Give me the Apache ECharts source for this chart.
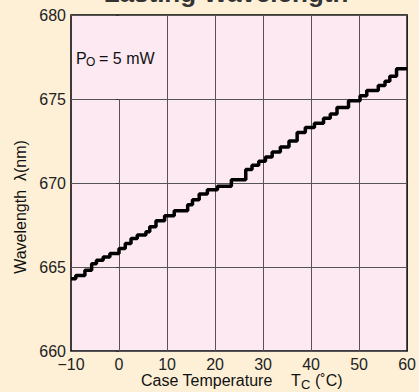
<!DOCTYPE html>
<html>
<head>
<meta charset="utf-8">
<script src="https://cdn.jsdelivr.net/npm/echarts@6/dist/echarts.min.js"></script>
<style>
html,body{margin:0;padding:0;background:#FEF0D6;}
#c{width:419px;height:392px;}
</style>
</head>
<body>
<div id="c"></div>
<script>
// Data (step starts, °C) and wavelength (nm)
var tempC = [-10, -9, -7.1, -5.7, -4.7, -3.3, -1.9, 0, 1.3, 2.5, 3.8, 5.6, 6.4, 7.7, 9.5, 11.5, 14.3, 15.3, 16.7, 18.4, 20.5, 23.4, 26.4, 27.7, 29.1, 30.5, 31.9, 33.6, 35.4, 37.1, 38.8, 40.7, 42.6, 44, 45.4, 47.8, 50.2, 51.6, 54, 55.4, 56.4, 57.8, 60];
var wavelength = [664.3, 664.5, 664.8, 665.2, 665.4, 665.6, 665.8, 666.1, 666.4, 666.7, 666.9, 667.1, 667.4, 667.75, 668.05, 668.35, 668.7, 669.0, 669.35, 669.6, 669.8, 670.2, 670.8, 671.05, 671.3, 671.55, 671.85, 672.15, 672.5, 673.0, 673.3, 673.55, 673.85, 674.1, 674.5, 674.9, 675.2, 675.5, 675.8, 676.05, 676.35, 676.8, 676.8];
var xTicks = [-10, 0, 10, 20, 30, 40, 50, 60];
var yTicks = [660, 665, 670, 675, 680];
var vGridX = [0, 10, 20, 30, 40, 50];
var vGridTo = [675, 680, 680, 680, 680, 680];

var chart = echarts.init(document.getElementById('c'), null, {renderer: 'svg'});
var pts = tempC.map(function (t, i) { return [t, wavelength[i]]; });
var vLines = vGridX.map(function (x, i) {
  return [{coord: [x, 660]}, {coord: [x, vGridTo[i]]}];
});
var fontFam = '"Liberation Sans", Arial, sans-serif';
chart.setOption({
  backgroundColor: '#FEF0D6',
  animation: false,
  grid: {left: 71, right: 10, top: 15, bottom: 41, show: true, backgroundColor: '#FCE9F1', borderColor: '#000', borderWidth: 1.5},
  xAxis: {
    type: 'value', min: -10, max: 60, interval: 10,
    axisLine: {show: false}, axisTick: {show: false}, splitLine: {show: false},
    axisLabel: {margin: 5, color: '#222', fontSize: 16, fontFamily: fontFam,
      formatter: function (v) { return v < 0 ? '\u2212' + Math.abs(v) : String(v); }}
  },
  yAxis: {
    type: 'value', min: 660, max: 680, interval: 5,
    axisLine: {show: false},
    axisTick: {show: true, length: 3, lineStyle: {color: '#333'}},
    splitLine: {show: true, lineStyle: {color: '#555', width: 1}},
    axisLabel: {margin: 5, color: '#222', fontSize: 16, fontFamily: fontFam}
  },
  series: [{
    type: 'line', data: pts, step: 'end', showSymbol: false, z: 5,
    lineStyle: {color: '#000', width: 3.5},
    markLine: {silent: true, symbol: ['none', 'none'], label: {show: false},
      lineStyle: {color: '#555', width: 1, type: 'solid'}, data: vLines}
  }],
  graphic: [
    {type: 'text', x: 226, y: -7, style: {text: 'Lasting Wavelength', font: 'bold 26px ' + fontFam, fill: '#333', textAlign: 'center', textVerticalAlign: 'middle'}},
    {type: 'text', x: 76, y: 58, style: {text: 'P', font: '16px ' + fontFam, fill: '#111', textVerticalAlign: 'middle'}},
    {type: 'text', x: 86, y: 62, style: {text: 'O', font: '12px ' + fontFam, fill: '#111', textVerticalAlign: 'middle'}},
    {type: 'text', x: 99, y: 58, style: {text: '= 5 mW', font: '16px ' + fontFam, fill: '#111', textVerticalAlign: 'middle'}},
    {type: 'text', x: 141, y: 380, style: {text: 'Case Temperature', font: '16px ' + fontFam, fill: '#111', textVerticalAlign: 'middle'}},
    {type: 'text', x: 291, y: 380, style: {text: 'T', font: '16px ' + fontFam, fill: '#111', textVerticalAlign: 'middle'}},
    {type: 'text', x: 301, y: 384, style: {text: 'C', font: '13px ' + fontFam, fill: '#111', textVerticalAlign: 'middle'}},
    {type: 'text', x: 315, y: 380, style: {text: '(\u02DAC)', font: '16px ' + fontFam, fill: '#111', textVerticalAlign: 'middle'}},
    {type: 'text', x: 20, y: 207, rotation: Math.PI / 2, style: {text: 'Wavelength  \u03BB(nm)', font: '16px ' + fontFam, fill: '#111', textAlign: 'center', textVerticalAlign: 'middle'}}
  ]
});
</script>
</body>
</html>
